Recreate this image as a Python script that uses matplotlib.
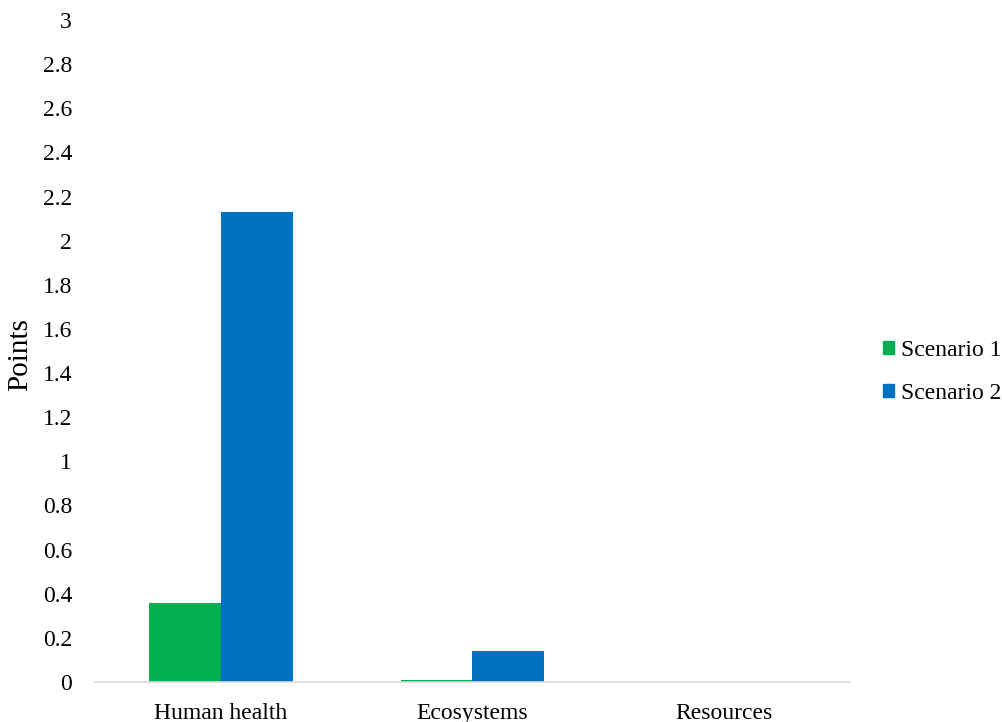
import matplotlib
matplotlib.use("Agg")
import matplotlib.pyplot as plt
import numpy as np
from matplotlib.patches import Patch

categories = ["Human health", "Ecosystems", "Resources"]
scenario1 = [0.36, 0.009, 0.002]
scenario2 = [2.13, 0.14, 0.001]
series_names = ["Scenario 1", "Scenario 2"]
colors = ["#00B050", "#0070C0"]
yticks = [0, 0.2, 0.4, 0.6, 0.8, 1, 1.2, 1.4, 1.6, 1.8, 2, 2.2, 2.4, 2.6, 2.8, 3]

plt.rcParams['font.family'] = ['Liberation Serif', 'DejaVu Serif']

fig = plt.figure(figsize=(10.03, 7.22), dpi=100)
ax = fig.add_axes([95/1003, 1 - 682/722, (850-95)/1003, (682-20)/722])

x = np.arange(len(categories))
w = 0.286
ax.bar(x - w/2, scenario1, w, color=colors[0], label=series_names[0])
ax.bar(x + w/2, scenario2, w, color=colors[1], label=series_names[1])

ax.set_xlim(-0.5, 2.5)
ax.set_ylim(0, 3)
ax.set_yticks(yticks)
ax.set_yticklabels([f"{v:g}" for v in yticks])
ax.set_xticks(x)
ax.set_xticklabels(categories)
ax.tick_params(axis='both', length=0, labelsize=17, colors='black')
ax.tick_params(axis='y', pad=16.5)
ax.tick_params(axis='x', pad=15)
for s in ['top', 'right', 'left']:
    ax.spines[s].set_visible(False)
ax.spines['bottom'].set_color('#D9D9D9')
ax.spines['bottom'].set_linewidth(1.2)
fig.text(20/1003, 1 - 355/722, "Points", rotation=90, ha='center', va='center', fontsize=21)

handles = [Patch(color=c) for c in colors]
fig.legend(handles, series_names, loc='center left', bbox_to_anchor=(883/1003, 1 - 372/722),
           frameon=False, fontsize=17, handlelength=0.45, handleheight=0.45,
           handletextpad=0.3, labelspacing=0.92, borderaxespad=0, borderpad=0)

fig.savefig("out.png", dpi=100)
